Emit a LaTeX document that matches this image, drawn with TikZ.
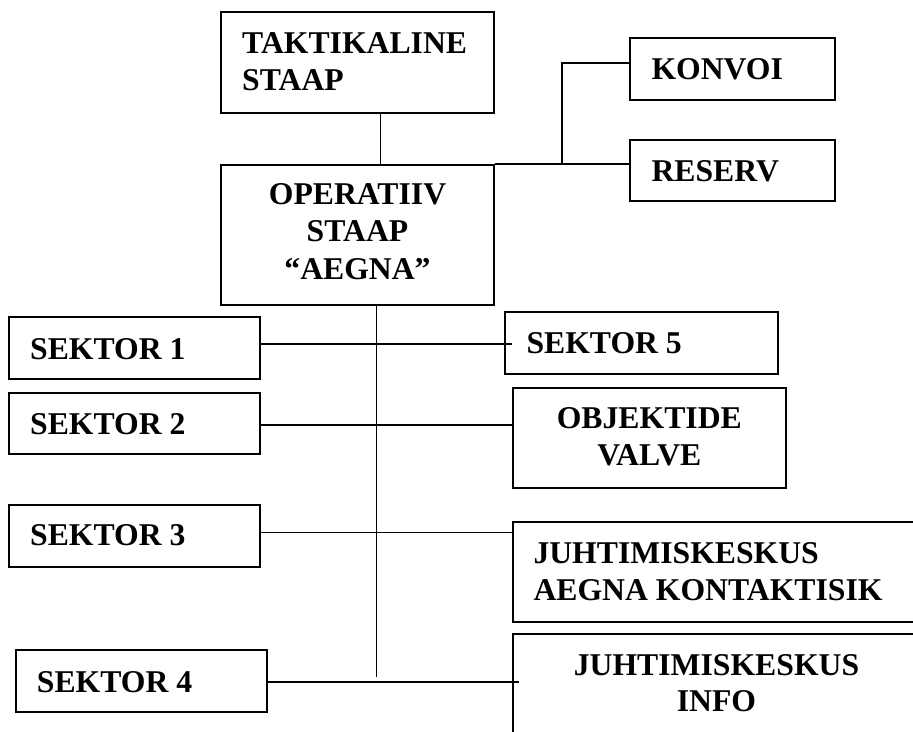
\documentclass[tikz,border=0pt]{standalone}
\usepackage{fontspec}
\setmainfont{Liberation Serif}
\usetikzlibrary{fit}
\begin{document}
\begin{tikzpicture}[x=1pt,y=-1pt,
  box/.style={draw=black, line width=2pt, inner sep=0pt},
  conn/.style={draw=black, line width=1.5pt},
  thickconn/.style={draw=black, line width=2pt},
  lbl/.style={inner sep=0pt, font=\fontsize{31.7}{37.5}\selectfont\bfseries},
  lw/.style={lbl, anchor=base west},
  lc/.style={lbl, anchor=base}]
\useasboundingbox (0,0) rectangle (913,731);
\clip (0,0) rectangle (913,731);
% boxes
\node[box, fit={(221,12.3)(494,113.3)}] (takt) {};
\node[box, fit={(221,165)(494,305)}] (oper) {};
\node[box, fit={(630,37.7)(835,99.7)}] (konv) {};
\node[box, fit={(630,140)(835,201)}] (resv) {};
\node[box, fit={(9,317.3)(260,379)}] (s1) {};
\node[box, fit={(9,392.7)(260,454.3)}] (s2) {};
\node[box, fit={(9,505)(260,567.3)}] (s3) {};
\node[box, fit={(16.3,650)(267,711.7)}] (s4) {};
\node[box, fit={(505.3,312.3)(778.3,374)}] (s5) {};
\node[box, fit={(513,387.7)(785.7,488.3)}] (obj) {};
\node[box, fit={(513,521.7)(920,622.3)}] (jak) {};
\node[box, fit={(513,634.3)(920,770)}] (jin) {};
% labels
\node[lw] (taktA) at (242,53.3) {TAKTIKALINE};
\node[lw] (taktB) at (242,90.7) {STAAP};
\node[lc] (operA) at (357.5,204) {OPERATIIV};
\node[lc] (operB) at (357.5,241.7) {STAAP};
\node[lc] (operC) at (357.5,279) {“AEGNA”};
\node[lw] (konvL) at (651.3,79) {KONVOI};
\node[lw] (resvL) at (651.3,181) {RESERV};
\node[lw] (s1L) at (30,359.3) {SEKTOR 1};
\node[lw] (s2L) at (30,434) {SEKTOR 2};
\node[lw] (s3L) at (30,545.3) {SEKTOR 3};
\node[lw] (s4L) at (36.7,692) {SEKTOR 4};
\node[lw] (s5L) at (526.3,353.3) {SEKTOR 5};
\node[lc] (objA) at (649.3,428) {OBJEKTIDE};
\node[lc] (objB) at (649.3,465) {VALVE};
\node[lw] (jakA) at (533.3,563.3) {JUHTIMISKESKUS};
\node[lw] (jakB) at (533.3,600) {AEGNA KONTAKTISIK};
\node[lc] (jinA) at (716.5,675) {JUHTIMISKESKUS};
\node[lc] (jinB) at (716.5,711.7) {INFO};
% junction coordinates
\coordinate (xTop) at (380.3,0);
\coordinate (xBr) at (562,63);
\coordinate (xTr) at (376.7,676.7);
\coordinate (y1) at (0,344);
\coordinate (y2) at (0,425);
\coordinate (y3) at (0,532.3);
\coordinate (y4) at (0,682);
\coordinate (e1) at (512,0);
\coordinate (e4) at (519,0);
% connectors
\draw[conn] (takt.south -| xTop) -- (oper.north -| xTop);
\draw[conn] (oper.north east) -- (oper.north east -| resv.west);
\draw[conn] (oper.north east -| xBr) |- (konv.west |- xBr);
\draw[conn] (oper.south -| xTr) -- (xTr);
\draw[conn] (s1.east |- y1) -- (e1 |- y1);
\draw[thickconn] (s2.east |- y2) -- (obj.west |- y2);
\draw[conn] (s3.east |- y3) -- (jak.west |- y3);
\draw[conn] (s4.east |- y4) -- (e4 |- y4);
\end{tikzpicture}
\end{document}
